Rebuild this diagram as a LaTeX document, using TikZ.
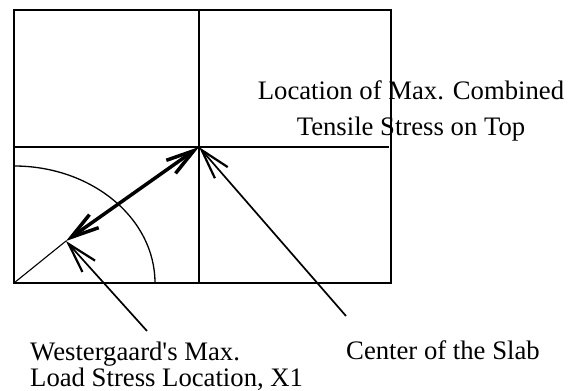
\documentclass[tikz,border=0pt]{standalone}
\usepackage{fontspec}
\setmainfont{Liberation Serif}
\usepackage{tikz}
\usetikzlibrary{arrows.meta,positioning}

\begin{document}
\begin{tikzpicture}[x=1pt,y=1pt,
  barb/.tip={Straight Barb[length=28pt,width=16pt]},
  ptr/.style={line width=1.7pt,-{Straight Barb[length=30pt,width=17pt,line width=2.2pt]}},
  lbl/.style={font=\fontsize{26.7}{22}\selectfont,inner sep=0pt}]
  \useasboundingbox (0,0) rectangle (571,391);
  \coordinate (corner) at (14,108); \coordinate (ctr) at (199,244); \coordinate (xone) at (66,150);
  \draw[line width=2.2pt] (14,108) rectangle (391,381);
  \draw[line width=1.8pt] (199,381)--(199,108);
  \draw[line width=1.3pt] (14,244)--(389,244);
  \draw[line width=1.3pt] (155,108) arc[start angle=0,end angle=90,x radius=141,y radius=117];
  \draw[line width=1.1pt] (corner)--(xone);
  \draw[line width=3.5pt,barb-barb] (xone)--(ctr);
  \node[lbl,anchor=north,align=center,font=\fontsize{26.7}{36}\selectfont] (maxloc) at (411,310) {Location of Max. Combined\\Tensile Stress on Top};
  \node[lbl,anchor=north west,align=left] (west) at (30,49) {Westergaard\textquotesingle s Max.\\Load Stress Location, X1};
  \node[lbl,anchor=north west] (slab) at (346,50) {Center of the Slab};
  \coordinate (wtail) at (147,60); \coordinate (ctail) at (346,75);
  \draw[ptr] (wtail)--(xone);
  \draw[ptr] (ctail)--(ctr);
\end{tikzpicture}
\end{document}
